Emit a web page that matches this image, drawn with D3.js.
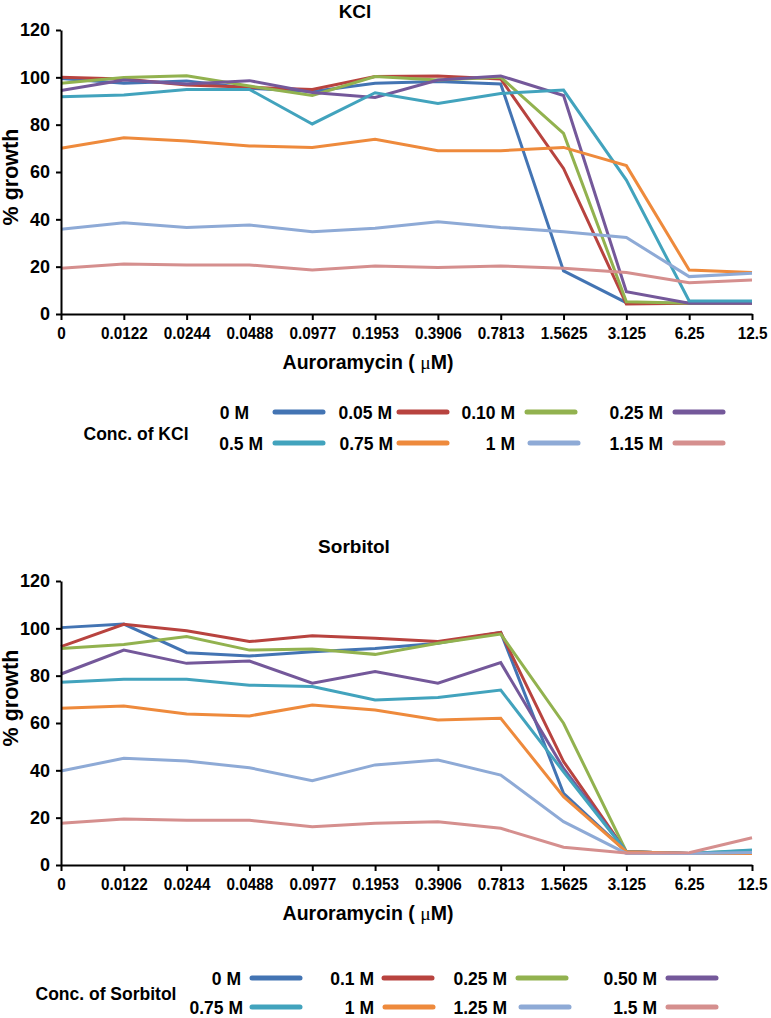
<!DOCTYPE html>
<html><head><meta charset="utf-8">
<script src="https://cdn.jsdelivr.net/npm/d3@7"></script>
<style>
body{margin:0;background:#fff}
svg{display:block}
text{font-family:"Liberation Sans",Arial,sans-serif;font-weight:bold;fill:#000}
</style>
</head><body>
<svg id="c" width="771" height="1018"></svg>
<script>
// ---------- data ----------
const categories = ["0","0.0122","0.0244","0.0488","0.0977","0.1953","0.3906","0.7813","1.5625","3.125","6.25","12.5"];
const yTickValues = [0,20,40,60,80,100,120];
const seriesColors = ["#4374B3","#B8433F","#92B24F","#74589A","#42A3BD","#EE8A3C","#8EAAD6","#D58F8E"];

const kclLabels = ["0 M","0.05 M","0.10 M","0.25 M","0.5 M","0.75 M","1 M","1.15 M"];
const kcl_0M    = [99.5,97.5,98.5,95.4,94.0,97.5,98.2,97.2,18.2,4.8,4.5,5.2];
const kcl_005M  = [100.0,99.3,96.8,95.8,94.9,100.3,100.6,99.3,61.5,4.2,4.5,4.5];
const kcl_010M  = [97.5,99.9,100.7,96.3,92.3,100.3,98.9,100.0,76.3,5.2,4.5,4.8];
const kcl_025M  = [94.4,98.9,97.2,98.6,93.6,91.5,98.9,100.6,92.3,9.4,4.5,4.5];
const kcl_05M   = [91.8,92.5,94.9,94.9,80.3,93.5,89.0,93.2,94.6,56.6,5.5,5.5];
const kcl_075M  = [70.0,74.5,73.1,71.0,70.4,73.8,69.0,69.0,70.4,62.7,18.6,17.5];
const kcl_1M    = [35.8,38.6,36.6,37.6,34.8,36.2,39.0,36.6,34.8,32.3,15.8,17.2];
const kcl_115M  = [19.3,21.1,20.7,20.7,18.6,20.3,19.6,20.3,19.3,17.5,13.2,14.4];

const sorbitolLabels = ["0 M","0.1 M","0.25 M","0.50 M","0.75 M","1 M","1.25 M","1.5 M"];
const sor_0M    = [100.3,101.8,89.7,88.3,90.1,91.5,93.7,98.3,30.3,5.6,4.9,4.9];
const sor_01M   = [92.3,101.7,99.0,94.4,96.9,95.8,94.4,98.3,43.7,5.6,4.9,4.9];
const sor_025M  = [91.5,93.2,96.5,90.8,91.3,89.0,93.7,97.6,59.9,5.6,4.9,6.1];
const sor_050M  = [80.7,90.8,85.2,86.2,76.8,81.7,76.8,85.5,40.8,5.6,4.9,4.9];
const sor_075M  = [77.2,78.5,78.5,76.0,75.4,69.7,70.8,73.9,39.4,5.6,4.9,6.3];
const sor_1M    = [66.2,67.2,63.8,63.0,67.6,65.5,61.3,62.0,28.9,5.6,4.9,4.9];
const sor_125M  = [39.7,45.1,43.9,41.1,35.6,42.3,44.4,38.0,18.3,4.9,4.9,5.3];
const sor_15M   = [17.6,19.4,18.9,18.9,16.2,17.6,18.3,15.5,7.5,5.1,5.2,11.5];

// ---------- drawing ----------
const svg = d3.select("#c");

function drawChart(cfg){
  const g = svg.append("g");
  const x = d3.scalePoint().domain(categories).range([cfg.left, cfg.right]);
  const y = d3.scaleLinear().domain([0,120]).range([cfg.bottom, cfg.top]);

  // title
  g.append("text").attr("x", cfg.titleX).attr("y", cfg.titleY)
    .attr("text-anchor","middle").style("font-size","19px").text(cfg.title);

  // y label
  g.append("text")
    .attr("transform", `translate(18,${cfg.yLabelY}) rotate(-90)`)
    .attr("text-anchor","middle").style("font-size","21.5px").text("% growth");

  // lines
  const line = d3.line().x((d,i)=>x(categories[i])).y(d=>y(d));
  cfg.series.forEach((s,k)=>{
    g.append("path").datum(s).attr("d", line)
      .attr("fill","none").attr("stroke", seriesColors[k])
      .attr("stroke-width",3).attr("stroke-linejoin","miter");
  });

  // y axis
  const ya = g.append("g").attr("transform",`translate(${cfg.left},0)`)
    .call(d3.axisLeft(y).tickValues(yTickValues).tickSize(5).tickSizeOuter(0).tickPadding(6));
  ya.select(".domain").attr("stroke","#000").attr("stroke-width",2);
  ya.selectAll(".tick line").attr("stroke","#000").attr("stroke-width",2);
  ya.selectAll(".tick text").style("font-size","18px").attr("x",-11)
    .style("font-family","Liberation Sans, Arial, sans-serif");

  // x axis
  const xa = g.append("g").attr("transform",`translate(0,${cfg.bottom})`)
    .call(d3.axisBottom(x).tickSize(6).tickSizeOuter(0));
  xa.select(".domain").attr("stroke","#000").attr("stroke-width",2);
  xa.selectAll(".tick line").attr("stroke","#000").attr("stroke-width",2);
  xa.selectAll(".tick text").style("font-size","17px").attr("y",12.5)
    .style("font-family","Liberation Sans, Arial, sans-serif")
    .attr("transform","scale(0.9,1)");

  // x title
  const xt = g.append("text").attr("x",368).attr("y",cfg.bottom+55)
    .attr("text-anchor","middle").style("font-size","19.5px");
  xt.append("tspan").text("Auroramycin ( ");
  xt.append("tspan").style("font-weight","normal").style("font-family","Liberation Serif, serif").text("\u03BC");
  xt.append("tspan").text("M)");

  // legend
  g.append("text").attr("x",cfg.legTitleX).attr("y",cfg.legTitleY+6.5)
    .attr("text-anchor","middle").style("font-size","17.5px").text(cfg.legendTitle);
  cfg.labels.forEach((lab,k)=>{
    const row = Math.floor(k/4);
    const ly = cfg.legRows[row];
    const it = cfg.legItems[k];
    g.append("text").attr("x", it[0]).attr("y", ly+6.5)
      .attr("text-anchor","end").style("font-size","17.5px").text(lab);
    g.append("line").attr("x1", it[1]).attr("x2", it[1]+48).attr("y1", ly).attr("y2", ly)
      .attr("stroke", seriesColors[k]).attr("stroke-width",5).attr("stroke-linecap","round");
  });
}

drawChart({
  title:"KCl", titleX:355, titleY:18,
  left:61, right:752, top:30, bottom:314, yLabelY:177,
  series:[kcl_0M,kcl_005M,kcl_010M,kcl_025M,kcl_05M,kcl_075M,kcl_1M,kcl_115M],
  labels:kclLabels, legendTitle:"Conc. of KCl", legTitleX:136, legTitleY:433,
  legRows:[412,443],
  legItems:[[249,275],[392,399],[515,527],[663,675],[263,275],[393,399],[515,530],[663,675]]
});

drawChart({
  title:"Sorbitol", titleX:354, titleY:553,
  left:61, right:752, top:581, bottom:865, yLabelY:698,
  series:[sor_0M,sor_01M,sor_025M,sor_050M,sor_075M,sor_1M,sor_125M,sor_15M],
  labels:sorbitolLabels, legendTitle:"Conc. of Sorbitol", legTitleX:106, legTitleY:993,
  legRows:[978,1007],
  legItems:[[241,252],[374,384],[507,518],[657,668],[243,252],[374,385],[507,521],[657,668]]
});
</script>
</body></html>
